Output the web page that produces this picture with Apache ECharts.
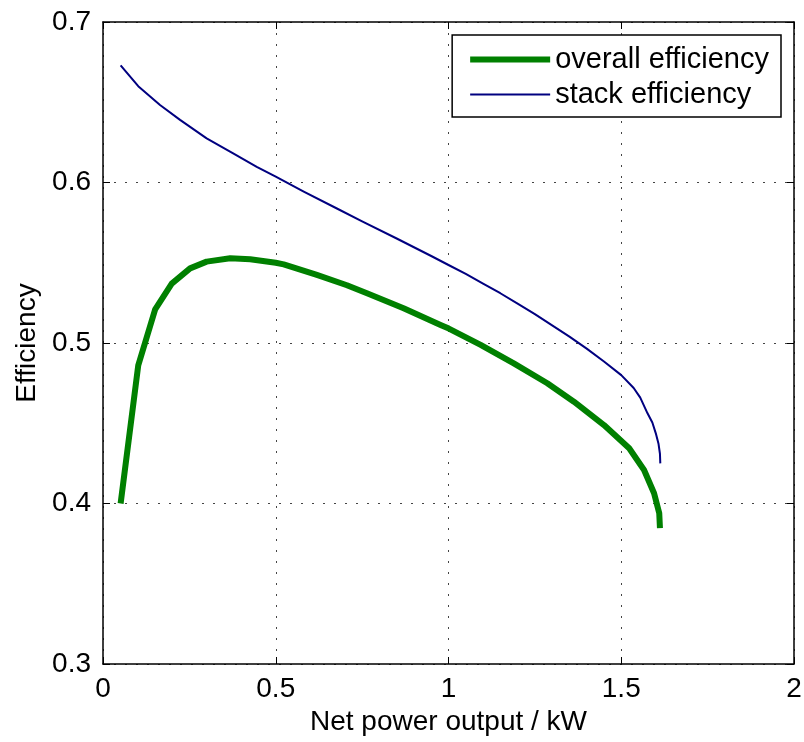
<!DOCTYPE html>
<html>
<head>
<meta charset="utf-8">
<script src="https://cdn.jsdelivr.net/npm/echarts@6/dist/echarts.min.js"></script>
<style>
html, body { margin: 0; padding: 0; background: #fff; }
#myChart { width: 804px; height: 742px; }
</style>
</head>
<body>
<div id="myChart"></div>
<script>
/** 数据 */
var legendNames = ['overall efficiency', 'stack efficiency']
var xTicks = [0, 0.5, 1, 1.5, 2]
var yTicks = [0.3, 0.4, 0.5, 0.6, 0.7]

// overall efficiency
var overallX = [0.051, 0.102, 0.151, 0.199, 0.252, 0.300, 0.368, 0.426, 0.500, 0.523, 0.619, 0.706, 0.764, 0.870, 0.977, 1.001, 1.093, 1.189, 1.286, 1.363, 1.450, 1.523, 1.566, 1.595, 1.610, 1.612]
var overallY = [0.400, 0.486, 0.521, 0.537, 0.5465, 0.5507, 0.5528, 0.5522, 0.550, 0.549, 0.5424, 0.536, 0.531, 0.5216, 0.5112, 0.509, 0.4988, 0.4873, 0.4749, 0.4634, 0.4489, 0.4344, 0.4209, 0.4064, 0.3939, 0.3846]

// stack efficiency
var stackX = [0.051, 0.102, 0.165, 0.223, 0.300, 0.378, 0.445, 0.500, 0.581, 0.677, 0.75, 0.85, 0.95, 1.0, 1.05, 1.1, 1.15, 1.2, 1.25, 1.3, 1.35, 1.4, 1.45, 1.5, 1.536, 1.555, 1.576, 1.59, 1.6, 1.608, 1.612, 1.613]
var stackY = [0.673, 0.660, 0.6483, 0.639, 0.6275, 0.618, 0.6098, 0.6036, 0.5943, 0.5838, 0.5758, 0.5651, 0.5542, 0.5486, 0.543, 0.537, 0.531, 0.5245, 0.518, 0.511, 0.504, 0.4965, 0.4885, 0.480, 0.472, 0.466, 0.4562, 0.4505, 0.4437, 0.437, 0.431, 0.425]

/** 全局变量 */
var myChart
var option
var fontFamily = '"Liberation Sans", Arial, sans-serif'

var toPairs = function(xs, ys) {
	var out = []
	for (var i = 0; i < xs.length; i++) {
		out.push([xs[i], ys[i]])
	}
	return out
}

// 刻度标签去掉浮点误差
var fmt = function(v) {
	return String(Math.round(v * 1000) / 1000)
}

/** 坐标轴 (下/左带标签, 上/右只画框和刻度) */
var makeAxis = function(pos, ticks, withLabel, name) {
	var isX = pos == 'bottom' || pos == 'top'
	return {
		type: 'value',
		position: pos,
		min: ticks[0],
		max: ticks[ticks.length - 1],
		interval: ticks[1] - ticks[0],
		name: withLabel ? name : '',
		nameLocation: 'middle',
		nameGap: isX ? 40 : 61,
		nameTextStyle: { fontFamily: fontFamily, fontSize: 28, color: '#000' },
		axisLine: { show: true, onZero: false, lineStyle: { color: '#000', width: 1.5 } },
		axisTick: { show: true, inside: true, length: 7, lineStyle: { color: '#000', width: 1 } },
		axisLabel: {
			show: withLabel,
			fontFamily: fontFamily,
			fontSize: 28,
			color: '#000',
			margin: isX ? 11 : 12,
			formatter: fmt
		},
		splitLine: {
			show: withLabel,
			lineStyle: { color: '#444', width: 1, type: [2, 9] }
		}
	}
}

var initOption = function() {
	option = {
		animation: false,
		backgroundColor: '#fff',
		grid: { left: 103, right: 10, top: 22, bottom: 78, outerBoundsMode: 'none', containLabel: false },
		legend: {
			data: [
				{ name: legendNames[0], lineStyle: { color: '#008000', width: 6 } },
				{ name: legendNames[1], lineStyle: { color: '#000080', width: 2 } }
			],
			orient: 'vertical',
			align: 'left',
			right: 23,
			top: 35,
			padding: [10, 12, 8, 15],
			backgroundColor: '#fff',
			borderColor: '#000',
			borderWidth: 1.5,
			itemWidth: 80,
			itemHeight: 14,
			itemGap: 6,
			itemStyle: { opacity: 0 },
			textStyle: { fontFamily: fontFamily, fontSize: 29, color: '#000', lineHeight: 27 }
		},
		xAxis: [
			makeAxis('bottom', xTicks, true, 'Net power output / kW'),
			makeAxis('top', xTicks, false, '')
		],
		yAxis: [
			makeAxis('left', yTicks, true, 'Efficiency'),
			makeAxis('right', yTicks, false, '')
		],
		series: [
			{
				name: legendNames[0],
				type: 'line',
				showSymbol: false,
				symbol: 'none',
				color: '#008000',
				lineStyle: { color: '#008000', width: 6, join: 'round' },
				data: toPairs(overallX, overallY)
			},
			{
				name: legendNames[1],
				type: 'line',
				showSymbol: false,
				symbol: 'none',
				color: '#000080',
				lineStyle: { color: '#000080', width: 2, join: 'round' },
				data: toPairs(stackX, stackY)
			}
		]
	}
}

initOption()
myChart = echarts.init(document.getElementById('myChart'))
myChart.setOption(option)
</script>
</body>
</html>
